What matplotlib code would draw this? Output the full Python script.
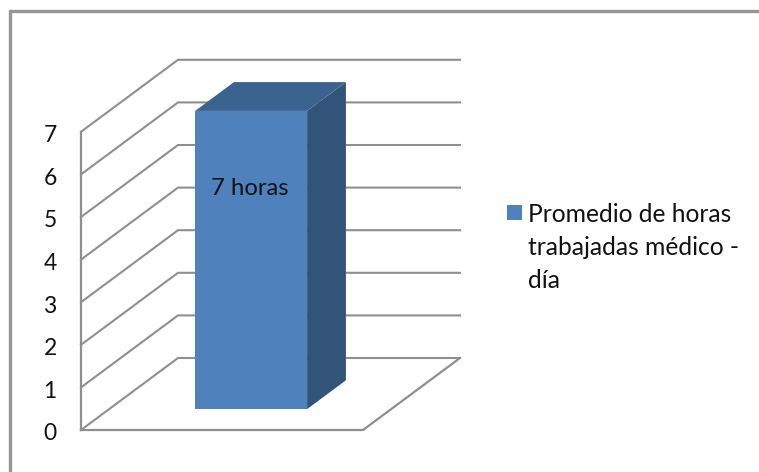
import numpy as np
import matplotlib
matplotlib.use("Agg")
import matplotlib.pyplot as plt
from matplotlib.patches import Polygon, Rectangle

# Data
ticks = [0, 1, 2, 3, 4, 5, 6, 7]
top_grid = 7
bar_value = 7
bar_label = "7 horas"
legend_label = "Promedio de horas\ntrabajadas médico -\ndía"

plt.rcParams['font.family'] = ['Lato', 'DejaVu Sans']

W, H = 759, 472
fig = plt.figure(figsize=(W / 100, H / 100), dpi=100)
ax = fig.add_axes([0, 0, 1, 1])

# one x unit is the floor width, one y unit is one hour
ux, uy = 282.0, 42.6
x0, y0 = 81.0, 430.0
ax.set_xlim(-x0 / ux, (W - x0) / ux)
ax.set_ylim((y0 - H) / uy, y0 / uy)
ax.axis("off")

# depth shear of the fake 3D box
shear_x, shear_y = 97.0 / ux, 72.0 / uy


def proj(x, y, d):
    return x + d * shear_x, y + d * shear_y


grid_col = "#8f8f8f"
text_col = "#111111"

# outer frame, only top and left edges are in the picture
ax.plot([10.3 / W, 10.3 / W, 1], [0, 1 - 10.7 / H, 1 - 10.7 / H], transform=ax.transAxes,
        color="#979797", lw=2.4, solid_joinstyle="miter", zorder=1)

# gridlines on side and back walls
for t in ticks:
    xs, ys = zip(proj(0, t, 0), proj(0, t, 1), proj(1, t, 1))
    ax.plot(xs, ys, color=grid_col, lw=1.5, solid_joinstyle="miter", zorder=1)

# y axis and floor
ax.plot([0, 0], [0, top_grid], color=grid_col, lw=1.6, zorder=1)
floor = [proj(0, 0, 0), proj(1, 0, 0), proj(1, 0, 1)]
ax.plot(*zip(*floor), color=grid_col, lw=1.6, zorder=1)

# tick labels
for t in ticks:
    ax.text(-31 / ux, t - 4 / uy, str(t), ha="center", va="center", fontsize=16.5, color=text_col)

# bar
bx0, bx1 = 0.305, 0.702
d0, d1 = 0.29, 0.69
front = [proj(bx0, 0, d0), proj(bx1, 0, d0), proj(bx1, bar_value, d0), proj(bx0, bar_value, d0)]
top = [proj(bx0, bar_value, d0), proj(bx1, bar_value, d0), proj(bx1, bar_value, d1), proj(bx0, bar_value, d1)]
side = [proj(bx1, 0, d0), proj(bx1, 0, d1), proj(bx1, bar_value, d1), proj(bx1, bar_value, d0)]
ax.add_patch(Polygon(side, fc="#325479", ec="none", zorder=3))
ax.add_patch(Polygon(top, fc="#3c6290", ec="none", zorder=3))
ax.add_patch(Polygon(front, fc="#4f81bd", ec="none", zorder=4))

lx, ly = proj((bx0 + bx1) / 2, 5.18, d0)
ax.text(lx - 1.5 / ux, ly, bar_label, ha="center", va="center", fontsize=17.2, color=text_col, zorder=5)

# legend
ax.add_patch(Rectangle((507 / W, 1 - 220 / H), 15 / W, 15 / H, transform=ax.transAxes,
                       fc="#4f81bd", ec="none"))
ax.text(528 / W, 1 - 202.5 / H, legend_label, transform=ax.transAxes, ha="left", va="top",
        fontsize=17.7, color=text_col, linespacing=1.55)

fig.savefig("out.png", dpi=100)
